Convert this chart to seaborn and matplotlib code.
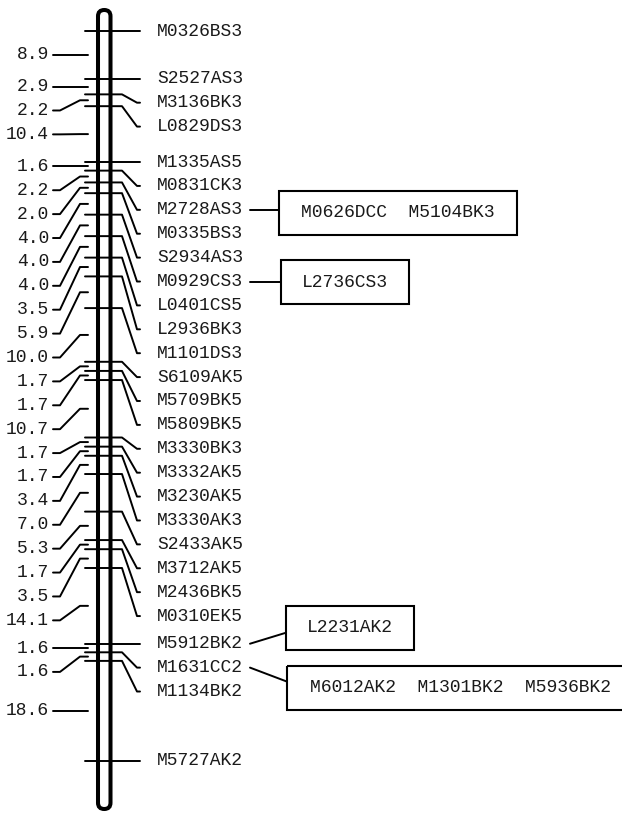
import numpy as np
import pandas as pd
import matplotlib
matplotlib.use("Agg")
import matplotlib.pyplot as plt
import seaborn as sns
from matplotlib.patches import FancyBboxPatch, Rectangle

# ---------------- data ----------------
markers = ["M0326BS3", "S2527AS3", "M3136BK3", "L0829DS3", "M1335AS5", "M0831CK3",
           "M2728AS3", "M0335BS3", "S2934AS3", "M0929CS3", "L0401CS5", "L2936BK3",
           "M1101DS3", "S6109AK5", "M5709BK5", "M5809BK5", "M3330BK3", "M3332AK5",
           "M3230AK5", "M3330AK3", "S2433AK5", "M3712AK5", "M2436BK5", "M0310EK5",
           "M5912BK2", "M1631CC2", "M1134BK2", "M5727AK2"]
intervals = [8.9, 2.9, 2.2, 10.4, 1.6, 2.2, 2.0, 4.0, 4.0, 4.0, 3.5, 5.9, 10.0,
             1.7, 1.7, 10.7, 1.7, 1.7, 3.4, 7.0, 5.3, 1.7, 3.5, 14.1, 1.6, 1.6, 18.6]
interval_labels = [f"{v:.1f}" for v in intervals]
box_links = ["M2728AS3", "M0929CS3", "M5912BK2", "M1631CC2"]
box_contents = ["M0626DCC  M5104BK3", "L2736CS3", "L2231AK2",
                "M6012AK2  M1301BK2  M5936BK2"]

# ---------------- layout / style ----------------
W, H = 622, 813
PX_PER_CM = 5.37
TOP_PX = 31.0
GAP = 4.45            # min label spacing in cM
FS = 13
LW = 1.4

box_x = [279, 281, 286, 287]
box_w = [238, 128, 128, 346]
box_dy = [3, 0.5, -16, 20]      # px offset of box centre from label
conn_dy = [0, 0, -11, 14]       # px offset of connector end from label
box_h = 44

def px2cm(dpx):
    return dpx / PX_PER_CM

sns.set_theme(style="white")
plt.rcParams['font.family'] = ['Liberation Mono', 'DejaVu Sans Mono']

pos = np.concatenate([[0.0], np.cumsum(intervals)])
mids = (pos[:-1] + pos[1:]) / 2

def spread(targets):
    out, prev = [], -1e9
    for v in targets:
        v = max(v, prev + GAP)
        out.append(v)
        prev = v
    return np.array(out)

right_lab = spread(pos)
left_lab = spread(mids)

fig = plt.figure(figsize=(W / 100, H / 100), dpi=100)
ax = fig.add_axes([0, 0, 1, 1])

# chromosome
y0 = px2cm(10 - TOP_PX)
y1 = px2cm(809 - TOP_PX)
chrom = FancyBboxPatch((98, y0), 12.5, y1 - y0,
                       boxstyle="round,pad=0,rounding_size=6.25",
                       mutation_aspect=1 / PX_PER_CM,
                       lw=2.9, ec="black", fc="white", zorder=1)
ax.add_patch(chrom)

# connector segments
rows = []
seg = 0
for m, p, lab in zip(markers, pos, right_lab):
    for x, y in [(85, p), (122, p), (137, lab), (140, lab)]:
        rows.append((seg, x, y))
    seg += 1
for m, lab in zip(mids, left_lab):
    for x, y in [(53, lab), (60, lab), (80, m), (88, m)]:
        rows.append((seg, x, y))
    seg += 1

lab_of = dict(zip(markers, right_lab))
for i, mk in enumerate(box_links):
    ly = lab_of[mk]
    for x, y in [(250, ly), (box_x[i], ly + px2cm(conn_dy[i]))]:
        rows.append((seg, x, y))
    seg += 1

df = pd.DataFrame(rows, columns=["seg", "x", "y"])
sns.lineplot(data=df, x="x", y="y", units="seg", estimator=None, sort=False,
             color="black", lw=LW, legend=False, ax=ax, zorder=3)
ax.set_xlim(0, W)
ax.set_ylim(px2cm(H - TOP_PX), px2cm(-TOP_PX))
ax.axis("off")

# labels
for m, lab in zip(markers, right_lab):
    ax.text(157, lab, m, ha="left", va="center", fontsize=FS, color="#1a1a1a")
for t, lab in zip(interval_labels, left_lab):
    ax.text(49, lab, t, ha="right", va="center", fontsize=FS, color="#1a1a1a")

# boxes
for i, mk in enumerate(box_links):
    cy = lab_of[mk] + px2cm(box_dy[i])
    hh = px2cm(box_h)
    ax.add_patch(Rectangle((box_x[i], cy - hh / 2), box_w[i], hh,
                           fill=False, ec="black", lw=1.5, zorder=3))
    ax.text(box_x[i] + box_w[i] / 2, cy, box_contents[i], ha="center",
            va="center", fontsize=FS, color="#1a1a1a")

fig.savefig("out.png", dpi=100, facecolor="white")
